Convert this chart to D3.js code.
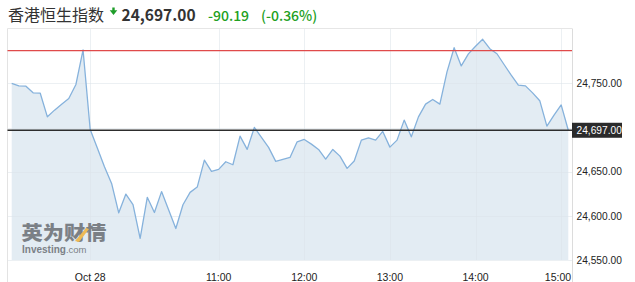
<!DOCTYPE html>
<html><head><meta charset="utf-8">
<script src="https://cdn.jsdelivr.net/npm/d3@7"></script>
<style>
html,body{margin:0;padding:0;background:#fff;}
svg{display:block;}
</style></head>
<body>
<svg id="c" width="635" height="282"></svg>
<script>
// ---- data ----
const title = "香港恒生指数";
const lastPrice = 24697.00;
const change = "-90.19";
const changePct = "(-0.36%)";
const prevClose = 24787.19;
// 5-minute closes, index 0..78
const prices = [
 24750.0,24747.3,24746.9,24739.4,24739.0,24712.2,24719.8,24726.6,24733.0,24748.9,
 24788.0,24697.9,24676.8,24655.6,24636.8,24603.5,24624.7,24612.8,24574.6,24621.0,
 24603.8,24627.5,24606.6,24585.7,24612.6,24626.6,24632.6,24663.2,24650.5,24652.7,
 24661.3,24657.9,24690.4,24675.3,24700.2,24688.9,24677.6,24661.7,24664.0,24666.2,
 24683.9,24686.6,24681.3,24675.3,24664.3,24675.3,24667.7,24653.8,24662.1,24685.8,
 24688.4,24685.8,24695.7,24677.9,24685.8,24708.5,24689.6,24712.2,24726.6,24731.9,
 24726.6,24763.1,24790.5,24769.9,24783.5,24792.2,24800.1,24789.4,24783.7,24771.5,
 24759.4,24748.1,24747.3,24739.4,24730.5,24701.7,24714.1,24725.7,24697.0
];
const xTickIndex = [11, 29, 41, 53, 65, 77];
const xTickLabels = ["Oct 28", "11:00", "12:00", "13:00", "14:00", "15:00"];
const yTicks = [24550, 24600, 24650, 24700, 24750];
const yTickLabels = ["24,550.00", "24,600.00", "24,650.00", "", "24,750.00"];
const yDomain = [24550, 24812.3];

// ---- layout ----
const svg = d3.select("#c");
const plotL = 7.5, plotR = 572, plotT = 28.5, plotB = 260;
const x = d3.scaleLinear().domain([0, prices.length - 1]).range([11.7, 568.3]);
const y = d3.scaleLinear().domain(yDomain).range([plotB, plotT]);

// area + line
const area = d3.area().x((d, i) => x(i)).y0(plotB).y1(d => y(d));
const line = d3.line().x((d, i) => x(i)).y(d => y(d));
svg.append("path").datum(prices).attr("d", area).attr("fill", "#e3ecf3");

// grid
const g = svg.append("g");
g.selectAll("line.h").data(yTicks).join("line")
  .attr("x1", plotL).attr("x2", plotR)
  .attr("y1", d => Math.round(y(d)) + 0.5).attr("y2", d => Math.round(y(d)) + 0.5)
  .attr("stroke", "#dde3ea").attr("stroke-opacity", 0.55);
g.selectAll("line.v").data(xTickIndex).join("line")
  .attr("x1", d => Math.round(x(d)) + 0.5).attr("x2", d => Math.round(x(d)) + 0.5)
  .attr("y1", plotT).attr("y2", plotB)
  .attr("stroke", "#dde3ea").attr("stroke-opacity", 0.55);

// frame
svg.append("line").attr("x1", plotL).attr("x2", plotR).attr("y1", plotT).attr("y2", plotT).attr("stroke", "#e6e6e6");
svg.append("line").attr("x1", plotL).attr("x2", plotL).attr("y1", plotT).attr("y2", 282).attr("stroke", "#e3e3e3");
svg.append("line").attr("x1", plotR + 0.5).attr("x2", plotR + 0.5).attr("y1", plotT).attr("y2", 282).attr("stroke", "#dcdcdc");

// watermark
const wm = svg.append("g").attr("opacity", 0.85);
wm.append("text").attr("x", 21.5).attr("y", 239.5).text("英为财情")
  .attr("font-family", "Noto Sans CJK SC").attr("font-weight", "900").attr("font-size", 19)
  .attr("fill", "#6a6e73").attr("textLength", 85).attr("lengthAdjust", "spacingAndGlyphs");
wm.append("path").attr("d", "M75 241 L86 228 L89 229 L79 242 Z").attr("fill", "#f0b23a");
const wt = wm.append("text").attr("x", 22).attr("y", 252.5).attr("font-family", "Liberation Sans").attr("fill", "#6a6e73");
wt.append("tspan").text("Investing").attr("font-weight", "bold").attr("font-size", 10);
wt.append("tspan").text(".com").attr("font-size", 9.5);

// price line
svg.append("path").datum(prices).attr("d", line)
  .attr("fill", "none").attr("stroke", "#86b2dc").attr("stroke-width", 1.3).attr("stroke-linejoin", "round");

// reference lines
svg.append("line").attr("x1", plotL).attr("x2", plotR)
  .attr("y1", y(prevClose)).attr("y2", y(prevClose)).attr("stroke", "#e04a4a").attr("stroke-width", 1.2);
svg.append("line").attr("x1", plotL).attr("x2", plotR)
  .attr("y1", y(lastPrice)).attr("y2", y(lastPrice)).attr("stroke", "#2d2d2d").attr("stroke-width", 1.3);

// y axis labels
svg.append("g").selectAll("text").data(yTicks).join("text")
  .attr("x", 576.5).attr("y", d => y(d)).attr("dy", "0.36em")
  .text((d, i) => yTickLabels[i])
  .attr("font-family", "Liberation Sans").attr("font-size", 10.2).attr("fill", "#222");

// last price tag
svg.append("rect").attr("x", 572).attr("y", y(lastPrice) - 7.5).attr("width", 50).attr("height", 15).attr("fill", "#2b2b2b");
svg.append("text").attr("x", 576.5).attr("y", y(lastPrice)).attr("dy", "0.36em").text("24,697.00")
  .attr("font-family", "Liberation Sans").attr("font-size", 10.2).attr("fill", "#fff");

// x axis labels
svg.append("g").selectAll("text").data(xTickIndex).join("text")
  .attr("x", (d, i) => i === xTickIndex.length - 1 ? Math.min(x(d), plotR - 14) : x(d))
  .attr("y", 280.5).attr("text-anchor", "middle")
  .text((d, i) => xTickLabels[i])
  .attr("font-family", "Liberation Sans").attr("font-size", 10.5).attr("fill", "#222");

// header
svg.append("text").attr("x", 8).attr("y", 20.5).text(title)
  .attr("font-family", "Noto Sans CJK SC").attr("font-size", 16).attr("fill", "#333");
svg.append("path").attr("d", "M112.3 7.5 H114.7 V10.3 H117.3 L113.5 15 L109.7 10.3 H112.3 Z").attr("fill", "#1f9d2a");
svg.append("text").attr("x", 121.5).attr("y", 20.7).text(d3.format(",.2f")(lastPrice))
  .attr("font-family", "Noto Sans CJK SC").attr("font-weight", "bold").attr("font-size", 15.5).attr("fill", "#333");
svg.append("text").attr("x", 208).attr("y", 20.5).text(change)
  .attr("font-family", "Noto Sans CJK SC").attr("font-weight", "500").attr("font-size", 14).attr("fill", "#22a022");
svg.append("text").attr("x", 261).attr("y", 20.5).text(changePct)
  .attr("font-family", "Noto Sans CJK SC").attr("font-weight", "500").attr("font-size", 14).attr("fill", "#22a022");
</script>
</body></html>
